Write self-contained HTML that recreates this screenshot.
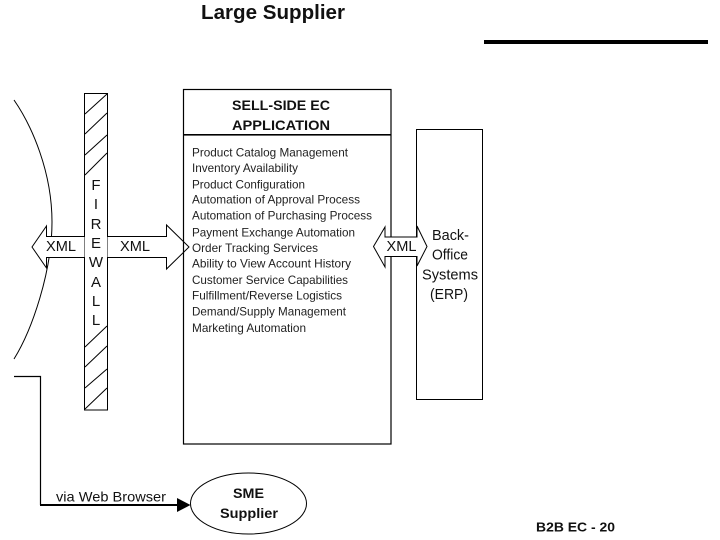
<!DOCTYPE html>
<html>
<head>
<meta charset="utf-8">
<style>
html,body{margin:0;padding:0;background:#fff;width:720px;height:540px;overflow:hidden}
svg{display:block}
text{font-family:"Liberation Sans",Arial,sans-serif;fill:#111}
.l{font-size:12px;fill:#222}
.b{font-weight:bold}
</style>
</head>
<body>
<svg width="720" height="540" viewBox="0 0 720 540" xmlns="http://www.w3.org/2000/svg">
<rect width="720" height="540" fill="#fff"/>
<text class="b" x="201" y="19" font-size="20.5" textLength="144" lengthAdjust="spacingAndGlyphs">Large Supplier</text>
<rect x="484" y="40" width="224" height="4" fill="#000"/>

<path d="M14 100 C32 126 52 172 52 222 C52 272 32 330 14 359" fill="none" stroke="#000" stroke-width="1"/>

<rect x="84.5" y="93.5" width="23" height="316.5" fill="#fff" stroke="#000" stroke-width="1"/>
<g fill="none" stroke="#000" stroke-width="1">
<path d="M85 114 L107 94"/>
<path d="M85 134 L107 113"/>
<path d="M85 155 L107 135"/>
<path d="M85 175 L107 153"/>
<path d="M85 347 L107 326"/>
<path d="M85 367 L107 346"/>
<path d="M85 388 L107 369"/>
<path d="M85 409 L107 388"/>
</g>
<g font-size="15" text-anchor="middle" fill="#222">
<text x="96" y="190">F</text>
<text x="96" y="209">I</text>
<text x="96" y="229">R</text>
<text x="96" y="248">E</text>
<text x="96" y="267">W</text>
<text x="96" y="287">A</text>
<text x="96" y="306">L</text>
<text x="96" y="325">L</text>
</g>

<path d="M84.5 236.5 H46.5 V226 L32 247 L46.5 268 V257.5 H84.5" fill="#fff" stroke="#000" stroke-width="1"/>
<path d="M107.5 236.5 H166.5 V225 L189 247 L166.5 269 V257.5 H107.5" fill="#fff" stroke="#000" stroke-width="1"/>
<text x="46" y="251" font-size="14.5" textLength="30" lengthAdjust="spacingAndGlyphs">XML</text>
<text x="120" y="251" font-size="14.5" textLength="30" lengthAdjust="spacingAndGlyphs">XML</text>

<rect x="183.5" y="89.5" width="207.5" height="354.5" fill="none" stroke="#000" stroke-width="1.2"/>
<rect x="183" y="134" width="208" height="1.6" fill="#000"/>
<text class="b" x="232" y="110" font-size="13.5" textLength="98" lengthAdjust="spacingAndGlyphs">SELL-SIDE EC</text>
<text class="b" x="232" y="130" font-size="13.5" textLength="98" lengthAdjust="spacingAndGlyphs">APPLICATION</text>

<g>
<text class="l" x="192" y="156.5" textLength="156" lengthAdjust="spacingAndGlyphs">Product Catalog Management</text>
<text class="l" x="192" y="172" textLength="106" lengthAdjust="spacingAndGlyphs">Inventory Availability</text>
<text class="l" x="192" y="188.5" textLength="113" lengthAdjust="spacingAndGlyphs">Product Configuration</text>
<text class="l" x="192" y="203.5" textLength="168" lengthAdjust="spacingAndGlyphs">Automation of Approval Process</text>
<text class="l" x="192" y="219.5" textLength="180" lengthAdjust="spacingAndGlyphs">Automation of Purchasing Process</text>
<text class="l" x="192" y="236.5" textLength="163" lengthAdjust="spacingAndGlyphs">Payment Exchange Automation</text>
<text class="l" x="192" y="252" textLength="126" lengthAdjust="spacingAndGlyphs">Order Tracking Services</text>
<text class="l" x="192" y="267.5" textLength="159" lengthAdjust="spacingAndGlyphs">Ability to View Account History</text>
<text class="l" x="192" y="284" textLength="156" lengthAdjust="spacingAndGlyphs">Customer Service Capabilities</text>
<text class="l" x="192" y="299.5" textLength="150" lengthAdjust="spacingAndGlyphs">Fulfillment/Reverse Logistics</text>
<text class="l" x="192" y="315.5" textLength="154" lengthAdjust="spacingAndGlyphs">Demand/Supply Management</text>
<text class="l" x="192" y="332" textLength="114" lengthAdjust="spacingAndGlyphs">Marketing Automation</text>
</g>

<rect x="416.5" y="129.5" width="66" height="270" fill="#fff" stroke="#000" stroke-width="1"/>
<path d="M385 237 V227 L373.5 246.5 L385 267 V256.5 H417 V266 L427 246.5 L417 226 V237 Z" fill="#fff" stroke="#000" stroke-width="1"/>
<text x="386.5" y="251" font-size="14.5" textLength="30" lengthAdjust="spacingAndGlyphs">XML</text>
<g font-size="14.5" fill="#222">
<text x="432" y="240" textLength="37" lengthAdjust="spacingAndGlyphs">Back-</text>
<text x="432" y="259.5" textLength="36" lengthAdjust="spacingAndGlyphs">Office</text>
<text x="422" y="279.5" textLength="56" lengthAdjust="spacingAndGlyphs">Systems</text>
<text x="430" y="299" textLength="38" lengthAdjust="spacingAndGlyphs">(ERP)</text>
</g>

<path d="M14 376.5 H40.5 V505" fill="none" stroke="#000" stroke-width="1.2"/>
<rect x="40" y="504" width="138" height="2" fill="#000"/>
<path d="M177 498 L190.5 505 L177 512 Z" fill="#000"/>
<text x="56" y="501.5" font-size="14" textLength="110" lengthAdjust="spacingAndGlyphs" fill="#222">via Web Browser</text>

<ellipse cx="248.5" cy="503.5" rx="58" ry="30.5" fill="#fff" stroke="#000" stroke-width="1"/>
<text class="b" x="233" y="498" font-size="14" textLength="31" lengthAdjust="spacingAndGlyphs">SME</text>
<text class="b" x="220" y="518" font-size="14" textLength="58" lengthAdjust="spacingAndGlyphs">Supplier</text>

<text class="b" x="536" y="531.5" font-size="12.5" textLength="79" lengthAdjust="spacingAndGlyphs" fill="#000">B2B EC - 20</text>
</svg>
</body>
</html>
